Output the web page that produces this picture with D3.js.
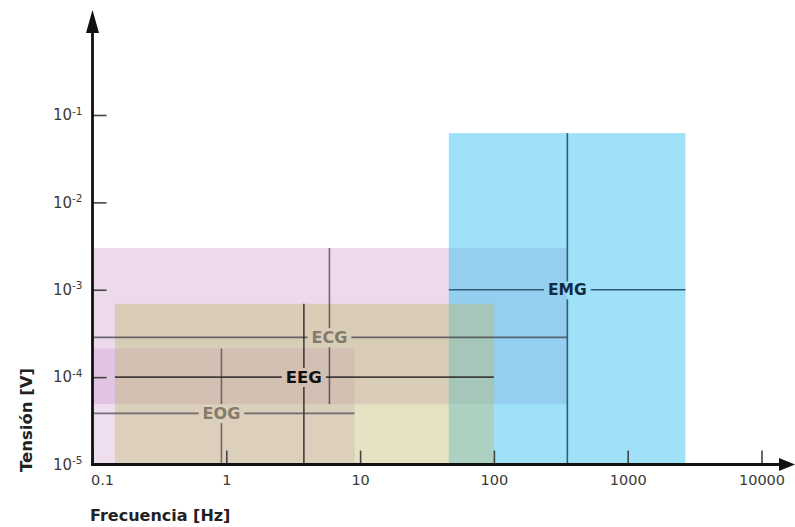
<!DOCTYPE html>
<html>
<head>
<meta charset="utf-8">
<script src="https://cdn.jsdelivr.net/npm/d3@7"></script>
<style>
  html, body { margin: 0; padding: 0; background: #fff; }
  svg { display: block; font-family: "DejaVu Sans", Verdana, sans-serif; }
</style>
</head>
<body>
<svg id="chart" width="795" height="527"></svg>
<script>
// ---- data ----
const signals = ["ECG", "EEG", "EOG", "EMG"];
const freqMin = [0.1, 0.147, 0.1, 46];      // Hz
const freqMax = [352, 100, 9.1, 2700];      // Hz
const voltMin = [4.9e-5, 1e-5, 1e-5, 1e-5]; // V
const voltMax = [3.0e-3, 6.9e-4, 2.13e-4, 0.062];
const freqMid = [5.9, 3.8, 0.92, 354];      // cross position
const voltMid = [2.85e-4, 1e-4, 3.85e-5, 1e-3];
const xTicks = [0.1, 1, 10, 100, 1000, 10000];
const xTickLabels = ["0.1", "1", "10", "100", "1000", "10000"];
const yTicks = [1e-5, 1e-4, 1e-3, 1e-2, 1e-1];
const yTickExp = ["-5", "-4", "-3", "-2", "-1"];
const xTitle = "Frecuencia [Hz]";
const yTitle = "Tensión [V]";

// ---- styles ----
const drawOrder = ["ECG", "EOG", "EMG", "EEG"];
const fills = { ECG: "rgb(236,218,236)", EOG: "rgb(198,145,205)", EMG: "rgb(62,196,242)", EEG: "rgb(193,185,108)" };
const fillOpacity = { ECG: 1, EOG: 0.3, EMG: 0.5, EEG: 0.4 };
const lineColor = { ECG: "#3b3440", EEG: "#2a2426", EOG: "#3b3440", EMG: "#234e66" };
const lineOpacity = { ECG: 0.7, EEG: 0.85, EOG: 0.65, EMG: 0.9 };
const labelColor = { ECG: "#857b6c", EEG: "#111111", EOG: "#857b6c", EMG: "#0f2c44" };
const labelSize = { ECG: 16, EEG: 16.5, EOG: 16, EMG: 15.5 };

const svg = d3.select("#chart");
const x = d3.scaleLog().domain([0.1, 10000]).range([92.5, 761.5]);
const y = d3.scaleLog().domain([1e-5, 1e-1]).range([464.5, 115]);

const boxes = svg.append("g");
drawOrder.forEach(s => {
  const i = signals.indexOf(s);
  boxes.append("rect")
    .attr("x", x(freqMin[i]))
    .attr("y", y(voltMax[i]))
    .attr("width", x(freqMax[i]) - x(freqMin[i]))
    .attr("height", y(voltMin[i]) - y(voltMax[i]))
    .attr("fill", fills[s])
    .attr("fill-opacity", fillOpacity[s]);
});

// crosses and labels
const crosses = svg.append("g");
signals.forEach((s, i) => {
  const cx = x(freqMid[i]), cy = y(voltMid[i]);
  const t = crosses.append("text")
    .attr("x", cx).attr("y", cy)
    .attr("text-anchor", "middle")
    .attr("dy", "0.36em")
    .attr("font-size", labelSize[s])
    .attr("font-weight", "bold")
    .attr("fill", labelColor[s])
    .text(s);
  const bb = t.node().getBBox();
  const padX = 4, padY = 0;
  const x0 = x(freqMin[i]), x1 = x(freqMax[i]);
  const y0 = y(voltMax[i]), y1 = y(voltMin[i]);
  const segs = [
    [x0, cy, bb.x - padX, cy],
    [bb.x + bb.width + padX, cy, x1, cy],
    [cx, y0, cx, bb.y - padY],
    [cx, bb.y + bb.height + padY, cx, y1]
  ];
  segs.forEach(d => {
    crosses.insert("line", "text")
      .attr("x1", d[0]).attr("y1", d[1]).attr("x2", d[2]).attr("y2", d[3])
      .attr("stroke", lineColor[s])
      .attr("stroke-opacity", lineOpacity[s])
      .attr("stroke-width", 1.6);
  });
});

// ---- axes ----
const yAxis = svg.append("g")
  .attr("transform", `translate(${x(0.1)},0)`)
  .call(d3.axisLeft(y).tickValues(yTicks).tickSize(-14).tickPadding(10).tickFormat(() => ""));
yAxis.select(".domain").remove();
yAxis.selectAll(".tick line").attr("stroke", "#444").attr("stroke-width", 1.6);
yAxis.selectAll(".tick text").each(function(d, i) {
  const t = d3.select(this);
  t.attr("font-size", 15).attr("fill", "#3a3a3a").attr("font-family", "DejaVu Sans, sans-serif").text(null);
  t.append("tspan").text("10");
  t.append("tspan").attr("font-size", 10.5).attr("dy", "-0.55em").text(yTickExp[i]);
});

const xAxis = svg.append("g")
  .attr("transform", `translate(0,${y(1e-5)})`)
  .call(d3.axisBottom(x).tickValues(xTicks).tickSize(-14).tickPadding(10)
    .tickFormat((d, i) => xTickLabels[i]));
xAxis.select(".domain").remove();
xAxis.selectAll(".tick line").attr("stroke", "#444").attr("stroke-width", 1.6);
xAxis.selectAll(".tick text")
  .attr("font-size", 14.5).attr("fill", "#3a3a3a").attr("font-family", "DejaVu Sans, sans-serif")
  .filter((d, i) => i === 0).attr("text-anchor", "start").attr("dx", "-2");

// axis lines with arrows
const ax = x(0.1), ay = y(1e-5);
svg.append("line").attr("x1", ax).attr("y1", ay + 1.5).attr("x2", ax).attr("y2", 28)
  .attr("stroke", "#111").attr("stroke-width", 2.8);
svg.append("polygon")
  .attr("points", `${ax},10 ${ax - 6.5},33 ${ax + 6.5},33`).attr("fill", "#111");
svg.append("line").attr("x1", ax - 1.4).attr("y1", ay).attr("x2", 782).attr("y2", ay)
  .attr("stroke", "#111").attr("stroke-width", 2.8);
svg.append("polygon")
  .attr("points", `795,${ay} 779,${ay - 6.5} 779,${ay + 6.5}`).attr("fill", "#111");

// axis titles
svg.append("text")
  .attr("x", 90).attr("y", 521)
  .attr("font-size", 16).attr("font-weight", "bold").attr("fill", "#222")
  .text(xTitle);
svg.append("text")
  .attr("transform", "translate(32,420) rotate(-90)")
  .attr("text-anchor", "middle")
  .attr("font-size", 16.5).attr("font-weight", "bold").attr("fill", "#222")
  .text(yTitle);
</script>
</body>
</html>
